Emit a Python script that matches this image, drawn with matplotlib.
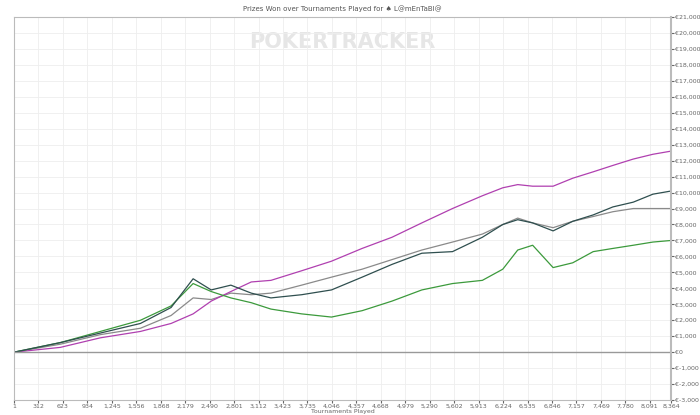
import numpy as np
import matplotlib.pyplot as plt
from matplotlib.ticker import FuncFormatter

tourn = [1, 590, 1100, 1610, 2000, 2280, 2510, 2760, 3020, 3270, 3660, 4040, 4430, 4810,
         5190, 5580, 5960, 6220, 6410, 6600, 6860, 7110, 7370, 7620, 7880, 8130, 8364]
dark = [0, 600, 1200, 1800, 2800, 4600, 3900, 4200, 3700, 3400, 3600, 3900, 4700, 5500,
        6200, 6300, 7200, 8000, 8300, 8100, 7600, 8200, 8600, 9100, 9400, 9900, 10100]
gray = [0, 500, 1100, 1500, 2300, 3400, 3300, 3700, 3600, 3700, 4200, 4700, 5200, 5800,
        6400, 6900, 7400, 8000, 8400, 8100, 7800, 8200, 8500, 8800, 9000, 9000, 9000]
green = [0, 600, 1300, 2000, 2900, 4300, 3800, 3400, 3100, 2700, 2400, 2200, 2600, 3200,
         3900, 4300, 4500, 5200, 6400, 6700, 5300, 5600, 6300, 6500, 6700, 6900, 7000]
magenta = [0, 300, 900, 1300, 1800, 2400, 3200, 3800, 4400, 4500, 5100, 5700, 6500, 7200,
           8100, 9000, 9800, 10300, 10500, 10400, 10400, 10900, 11300, 11700, 12100, 12400, 12600]
spike_dark = 18200
spike_green = 15000
xticks = [1, 312, 623, 934, 1245, 1556, 1868, 2179, 2490, 2801, 3112, 3423, 3735, 4046,
          4357, 4668, 4979, 5290, 5602, 5913, 6224, 6535, 6846, 7157, 7469, 7780, 8091, 8364]

fig = plt.figure(figsize=(7, 4.15), dpi=100)
ax = fig.add_axes([0.02, 0.036, 0.939, 0.923])
ax.set_xlim(1, 8364)
ax.set_ylim(-3000, 21000)

ax.plot(tourn, gray, color="#8a8a8a", lw=0.9)
ax.plot(tourn, magenta, color="#b040b0", lw=0.9)
ax.plot(tourn + [8364], green + [spike_green], color="#3c9a3c", lw=0.9)
ax.plot(tourn + [8364], dark + [spike_dark], color="#2f4f4f", lw=0.9)
ax.axhline(0, color="#999999", lw=1)

ax.yaxis.tick_right()
ax.set_yticks(range(-3000, 21001, 1000))
ax.yaxis.set_major_formatter(FuncFormatter(lambda v, p: "€{:,}".format(int(v))))
ax.set_xticks(xticks)
ax.set_xticklabels(["{:,}".format(t) for t in xticks])
ax.tick_params(labelsize=4.5, colors="#666666", length=2, pad=1)
ax.grid(True, color="#eeeeee", lw=0.6)
for s in ax.spines.values():
    s.set_color("#bbbbbb")
ax.spines["right"].set_linewidth(1.5)
ax.set_xlabel("Tournaments Played", fontsize=4.5, color="#666666", labelpad=0)
ax.set_title("Prizes Won over Tournaments Played for ♠ L@mEnTaBl@", fontsize=5,
             color="#555555", pad=4)
ax.text(0.5, 0.935, "POKERTRACKER", transform=ax.transAxes, ha="center", va="center",
        fontsize=15, fontweight="bold", color="#e6e6e6", zorder=0)

fig.savefig("out.png", dpi=100)
